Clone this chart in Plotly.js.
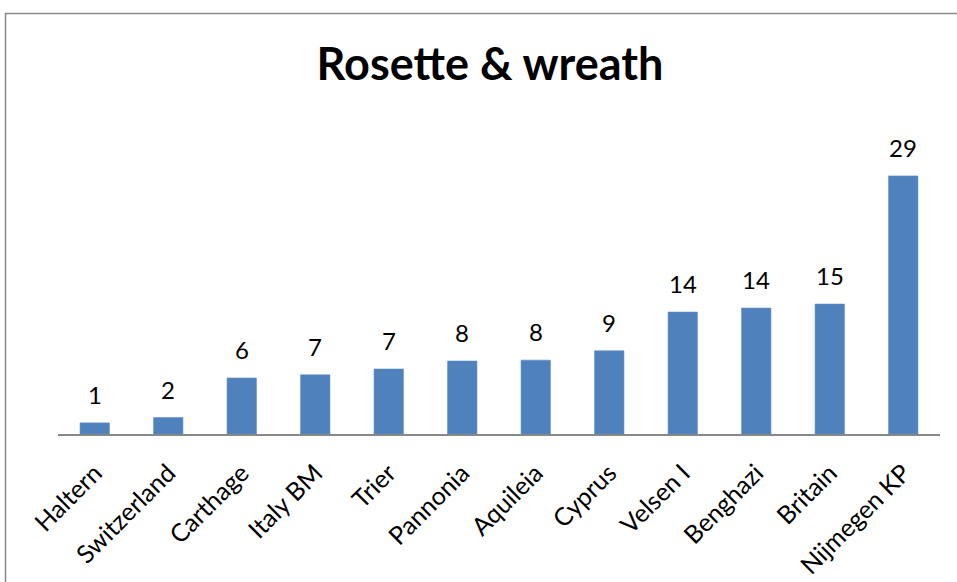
<!DOCTYPE html>
<html>
<head>
<meta charset="utf-8">
<script src="https://cdn.plot.ly/plotly-3.0.1.min.js"></script>
<style>html,body{margin:0;padding:0;background:#fff;}#chart{width:957px;height:582px;}</style>
</head>
<body>
<div id="chart"></div>
<script>
const categories = ["Haltern", "Switzerland", "Carthage", "Italy BM", "Trier", "Pannonia", "Aquileia", "Cyprus", "Velsen I", "Benghazi", "Britain", "Nijmegen KP"];
const values = [1.25, 1.85, 6.3, 6.65, 7.3, 8.2, 8.3, 9.35, 13.7, 14.15, 14.6, 29];
const chartTitle = "Rosette & wreath";

const FONT = "Lato, 'Open Sans', sans-serif";

const trace = {
  type: "bar",
  x: categories,
  y: values,
  marker: { color: "#4F81BD", line: { color: "#5F8FC8", width: 0.6 } },
  hoverinfo: "skip"
};

const annotations = categories.map((c, i) => ({
  x: c, y: values[i], xref: "x", yref: "y",
  text: String(Math.round(values[i])),
  showarrow: false, yanchor: "bottom", yshift: 12,
  font: { family: FONT, size: 24, color: "#000" }
}));

// border frame in paper coordinates (plot area: x 58..940, y 100..434)
const pl = 58, pr = 940, pt = 100, pb = 434;
const px = v => (v - pl) / (pr - pl);
const py = v => (pb - v) / (pb - pt);

const layout = {
  width: 957, height: 582,
  margin: { l: pl, r: 957 - pr, t: pt, b: 582 - pb },
  paper_bgcolor: "#fff", plot_bgcolor: "#fff",
  showlegend: false,
  bargap: 0.6,
  title: {
    text: "<b>" + chartTitle + "</b>",
    font: { family: FONT, size: 45, color: "#000" },
    x: 490 / 957, xanchor: "center", xref: "container",
    y: 1 - 64 / 582, yanchor: "middle", yref: "container"
  },
  xaxis: {
    type: "category",
    range: [-0.5, 11.5],
    showline: true, linecolor: "#888", linewidth: 1.5,
    ticks: "", tickangle: -45,
    ticklabelstandoff: 13,
    tickfont: { family: FONT, size: 25, color: "#000" },
    showgrid: false, zeroline: false, fixedrange: true
  },
  yaxis: {
    range: [0, 334 / 8.9],
    visible: false, showgrid: false, zeroline: false, fixedrange: true
  },
  annotations: annotations,
  shapes: [{
    type: "rect", xref: "paper", yref: "paper",
    x0: px(5.5), x1: px(1000), y0: py(700), y1: py(13.5),
    line: { color: "#888", width: 1.5 }, fillcolor: "rgba(0,0,0,0)", layer: "below"
  }]
};

Plotly.newPlot("chart", [trace], layout, { displayModeBar: false, staticPlot: true });
</script>
</body>
</html>
